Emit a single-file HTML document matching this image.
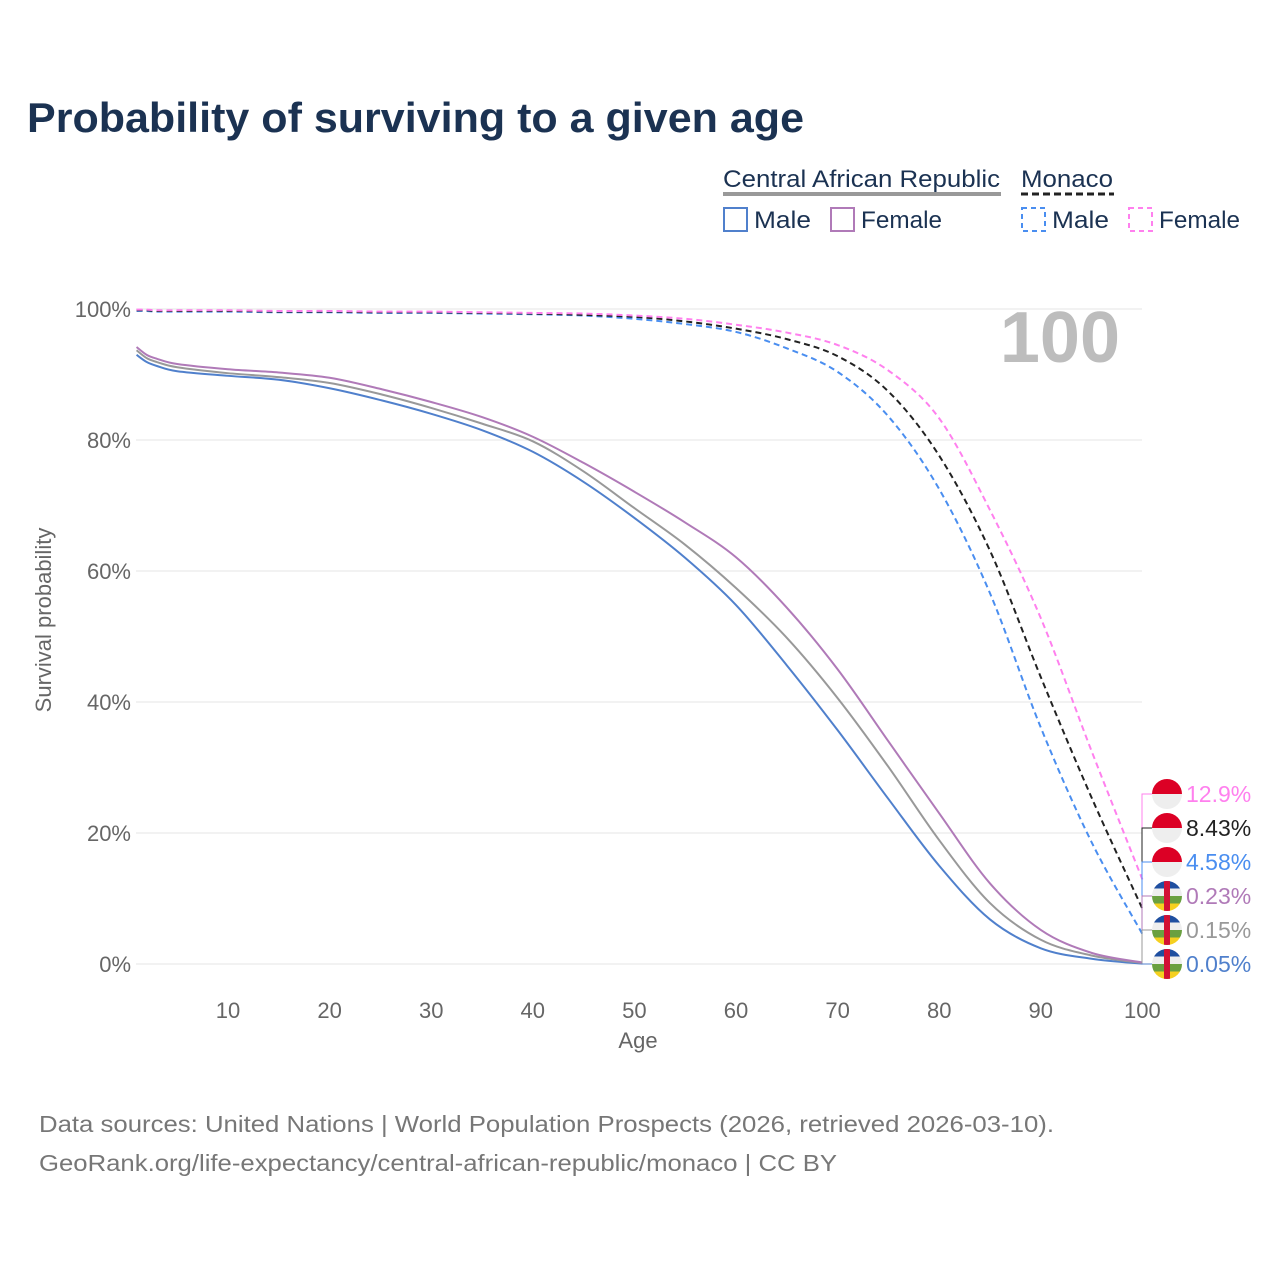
<!DOCTYPE html>
<html><head><meta charset="utf-8">
<style>
body{margin:0;background:#fff;font-family:"Liberation Sans",sans-serif;}
svg text{font-family:"Liberation Sans",sans-serif;}
</style></head>
<body>
<svg id="chart" width="1280" height="1280" xmlns="http://www.w3.org/2000/svg">
<rect width="1280" height="1280" fill="#fff"/>
<text x="27" y="132" font-size="42" font-weight="bold" fill="#1b3252" textLength="777" lengthAdjust="spacingAndGlyphs">Probability of surviving to a given age</text>
<g>
<text x="723" y="187" font-size="24" fill="#1b3252" textLength="277" lengthAdjust="spacingAndGlyphs">Central African Republic</text>
<rect x="723" y="192" width="278" height="4" fill="#999"/>
<text x="1021" y="187" font-size="24" fill="#1b3252" textLength="92" lengthAdjust="spacingAndGlyphs">Monaco</text>
<line x1="1021" y1="194" x2="1114" y2="194" stroke="#222" stroke-width="3" stroke-dasharray="7,4"/>
<rect x="724" y="208" width="23" height="23" fill="none" stroke="#5080cc" stroke-width="2"/>
<text x="754" y="228" font-size="24" fill="#1b3252" textLength="57" lengthAdjust="spacingAndGlyphs">Male</text>
<rect x="831" y="208" width="23" height="23" fill="none" stroke="#b07ab8" stroke-width="2"/>
<text x="861" y="228" font-size="24" fill="#1b3252" textLength="81" lengthAdjust="spacingAndGlyphs">Female</text>
<rect x="1022" y="208" width="23" height="23" fill="none" stroke="#4a8ef0" stroke-width="2" stroke-dasharray="5,4"/>
<text x="1052" y="228" font-size="24" fill="#1b3252" textLength="57" lengthAdjust="spacingAndGlyphs">Male</text>
<rect x="1129" y="208" width="23" height="23" fill="none" stroke="#ff80ee" stroke-width="2" stroke-dasharray="5,4"/>
<text x="1159" y="228" font-size="24" fill="#1b3252" textLength="81" lengthAdjust="spacingAndGlyphs">Female</text>
</g>
<g id="grid"></g>
<text x="1120" y="362" font-size="72" font-weight="bold" fill="#bdbdbd" text-anchor="end">100</text>
<g id="series"></g>
<g id="labels"></g>
<text transform="translate(51,620) rotate(-90)" font-size="22" fill="#666" text-anchor="middle">Survival probability</text>
<text x="638" y="1048" font-size="22" fill="#666" text-anchor="middle">Age</text>
<text x="39" y="1132" font-size="23" fill="#777" textLength="1015" lengthAdjust="spacingAndGlyphs">Data sources: United Nations | World Population Prospects (2026, retrieved 2026-03-10).</text>
<text x="39" y="1171" font-size="23" fill="#777" textLength="798" lengthAdjust="spacingAndGlyphs">GeoRank.org/life-expectancy/central-african-republic/monaco | CC BY</text>
</svg>
<script>
const ages=[1,2,3,5,10,15,20,25,30,35,40,45,50,55,60,65,70,75,80,85,90,95,100];
const carMale=[93.0,91.9,91.3,90.5,89.8,89.2,87.9,86.1,84.0,81.5,78.2,73.6,68.1,62.0,54.8,45.6,35.7,25.2,15.0,6.8,2.4,0.8,0.05];
const carBoth=[93.7,92.5,91.9,91.1,90.2,89.6,88.7,87.0,84.9,82.5,79.8,75.2,69.6,64.0,57.4,49.8,40.6,30.1,18.9,9.3,3.7,1.3,0.15];
const carFemale=[94.2,93.0,92.4,91.6,90.8,90.3,89.5,87.8,85.8,83.5,80.5,76.5,72.1,67.4,62.1,54.4,45.0,34.0,23.0,12.3,5.2,1.7,0.23];
const mcMale=[99.7,99.7,99.6,99.6,99.6,99.5,99.5,99.4,99.4,99.3,99.2,99.0,98.5,97.7,96.5,94.0,90.4,83.6,72.5,56.6,36.1,18.6,4.58];
const mcBoth=[99.8,99.8,99.7,99.7,99.7,99.6,99.6,99.5,99.5,99.4,99.3,99.1,98.8,98.1,97.0,95.4,92.8,87.4,77.6,63.1,43.8,25.4,8.43];
const mcFemale=[99.9,99.9,99.8,99.8,99.8,99.7,99.7,99.6,99.6,99.5,99.4,99.3,99.0,98.5,97.6,96.4,94.5,90.6,83.3,69.3,52.8,32.5,12.9];
const yTicks=[0,20,40,60,80,100];
const xTicks=[10,20,30,40,50,60,70,80,90,100];
const endLabels=["12.9%","8.43%","4.58%","0.23%","0.15%","0.05%"];
const NS="http://www.w3.org/2000/svg";
const xs=a=>126.4+a*10.16;
const ys=p=>964-p*6.55;
function mk(tag,attrs,parent){const e=document.createElementNS(NS,tag);for(const k in attrs)e.setAttribute(k,attrs[k]);parent.appendChild(e);return e;}
const grid=document.getElementById('grid');
yTicks.forEach(t=>{
  const l=mk('line',{x1:136,x2:1142,y1:ys(t),y2:ys(t),stroke:'#e6e6e6','stroke-width':1},grid);
  
  
  const tx=mk('text',{x:131,y:ys(t)+8,'font-size':22,fill:'#666','text-anchor':'end'},grid);
  tx.textContent=t+'%';
  
  
});
xTicks.forEach(t=>{
  const tx=mk('text',{x:xs(t),y:1018,'font-size':22,fill:'#666','text-anchor':'middle'},grid);
  tx.textContent=t;
  
  
});
function pathD(vals){
  const p=ages.map((a,i)=>[xs(a),ys(vals[i])]);
  let d='M'+p[0][0]+','+p[0][1];
  for(let i=0;i<p.length-1;i++){
    const p0=p[i-1]||p[i],p1=p[i],p2=p[i+1],p3=p[i+2]||p2;
    const c1=[p1[0]+(p2[0]-p0[0])/6,p1[1]+(p2[1]-p0[1])/6];
    const c2=[p2[0]-(p3[0]-p1[0])/6,p2[1]-(p3[1]-p1[1])/6];
    d+=`C${c1[0]},${c1[1]} ${c2[0]},${c2[1]} ${p2[0]},${p2[1]}`;
  }
  return d;
}
const ser=document.getElementById('series');
const defs=[[carMale,'#5080cc',null,'car-male-line'],[carBoth,'#999',null,'car-both-line'],[carFemale,'#b07ab8',null,'car-female-line'],
[mcMale,'#4a8ef0','6,4','monaco-male-line'],[mcBoth,'#222','6,4','monaco-both-line'],[mcFemale,'#ff80ee','6,4','monaco-female-line']];
defs.forEach(s=>{
  const e=mk('path',{d:pathD(s[0]),fill:'none',stroke:s[1],'stroke-width':2},ser);
  if(s[2])e.setAttribute('stroke-dasharray',s[2]);
  
  
});
const lab=document.getElementById('labels');
const endSeries=[[mcFemale,'#ff80ee','mc'],[mcBoth,'#222','mc'],[mcMale,'#4a8ef0','mc'],[carFemale,'#b07ab8','car'],[carBoth,'#999','car'],[carMale,'#5080cc','car']];
endSeries.forEach((s,i)=>{
  const ly=794+i*34;
  const ey=ys(s[0][s[0].length-1]);
  mk('path',{d:`M1142,${ey} L1142,${ly} L1152,${ly}`,fill:'none',stroke:s[1],'stroke-width':1},lab);
  const cx=1167,r=15;
  if(s[2]==='mc'){
    mk('path',{d:`M${cx-r},${ly} A${r},${r} 0 0 1 ${cx+r},${ly} Z`,fill:'#dc0025'},lab);
    mk('path',{d:`M${cx-r},${ly} A${r},${r} 0 0 0 ${cx+r},${ly} Z`,fill:'#eee'},lab);
  } else {
    const cp=mk('clipPath',{id:'cl'+i},lab);
    mk('circle',{cx:cx,cy:ly,r:r},cp);
    const g=mk('g',{'clip-path':`url(#cl${i})`},lab);
    const cols=['#1f4fa0','#eee','#6aa040','#f5d020'];
    cols.forEach((c,k)=>mk('rect',{x:cx-r,y:ly-r+k*7.5,width:2*r,height:7.5,fill:c},g));
    mk('rect',{x:cx-3,y:ly-r,width:6,height:2*r,fill:'#d21034'},g);
  }
  const t=mk('text',{x:1186,y:ly+8,'font-size':23,fill:s[1]},lab);
  t.textContent=endLabels[i];
  
  
});
</script>
</body></html>
